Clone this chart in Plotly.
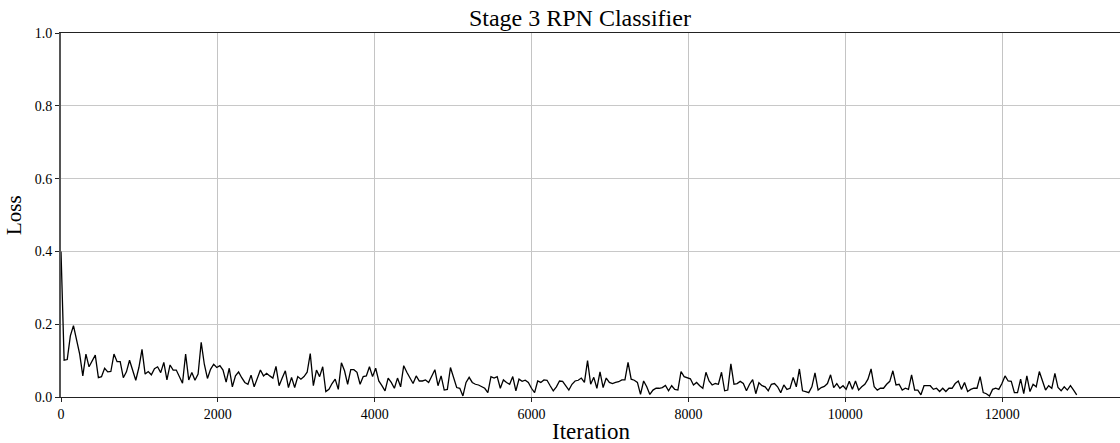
import numpy as np
import plotly.graph_objects as go

loss_part1 = [0.400, 0.101, 0.103, 0.168, 0.196, 0.159, 0.118, 0.058, 0.118, 0.083,
              0.099, 0.115, 0.053, 0.056, 0.079, 0.069, 0.070, 0.118, 0.097, 0.097,
              0.053, 0.069, 0.101, 0.070, 0.046, 0.081, 0.131, 0.063, 0.070, 0.061,
              0.078, 0.083, 0.067, 0.095, 0.047, 0.088, 0.074, 0.074, 0.058, 0.038,
              0.118, 0.047, 0.067, 0.046, 0.063, 0.150, 0.090, 0.051, 0.076, 0.090,
              0.081, 0.086, 0.074, 0.041, 0.079, 0.028, 0.058, 0.069, 0.053, 0.040,
              0.035, 0.060, 0.028, 0.053, 0.074, 0.058]
loss_part2 = [0.065, 0.058, 0.052, 0.084, 0.031, 0.052, 0.072, 0.026, 0.054, 0.026,
              0.056, 0.049, 0.056, 0.068, 0.119, 0.031, 0.074, 0.056, 0.083, 0.015,
              0.021, 0.037, 0.049, 0.021, 0.094, 0.072, 0.035, 0.075, 0.075, 0.068,
              0.035, 0.056, 0.058, 0.083, 0.056, 0.079, 0.044, 0.031, 0.017, 0.052,
              0.040, 0.024, 0.052, 0.028, 0.086, 0.068, 0.051, 0.037, 0.058, 0.044,
              0.044, 0.047, 0.040, 0.058, 0.075, 0.031, 0.058, 0.019, 0.021, 0.081,
              0.054, 0.026, 0.024, 0.003, 0.040, 0.054]
loss_part3 = [0.040, 0.035, 0.033, 0.028, 0.024, 0.012, 0.056, 0.052, 0.056, 0.024,
              0.047, 0.040, 0.035, 0.056, 0.017, 0.049, 0.043, 0.046, 0.040, 0.024,
              0.012, 0.044, 0.040, 0.047, 0.046, 0.031, 0.017, 0.028, 0.044, 0.043,
              0.031, 0.019, 0.035, 0.044, 0.046, 0.052, 0.040, 0.100, 0.035, 0.054,
              0.024, 0.069, 0.026, 0.052, 0.040, 0.037, 0.040, 0.042, 0.047, 0.047,
              0.095, 0.049, 0.046, 0.040, 0.007, 0.044, 0.028, 0.007, 0.019, 0.024,
              0.024, 0.026, 0.032, 0.017, 0.031]
loss_part4 = [0.021, 0.019, 0.070, 0.056, 0.052, 0.050, 0.033, 0.040, 0.031, 0.024,
              0.068, 0.044, 0.033, 0.037, 0.035, 0.068, 0.017, 0.019, 0.091, 0.035,
              0.037, 0.043, 0.037, 0.017, 0.035, 0.048, 0.009, 0.039, 0.031, 0.028,
              0.017, 0.035, 0.037, 0.028, 0.012, 0.033, 0.021, 0.024, 0.054, 0.028,
              0.077, 0.017, 0.015, 0.012, 0.028, 0.066, 0.019, 0.026, 0.029, 0.037,
              0.061, 0.026, 0.037, 0.024, 0.031, 0.021, 0.043, 0.021, 0.044, 0.019,
              0.028, 0.035, 0.049, 0.077, 0.028, 0.019, 0.024]
loss_part5 = [0.024, 0.035, 0.043, 0.072, 0.033, 0.035, 0.019, 0.024, 0.021, 0.061,
              0.019, 0.019, 0.006, 0.031, 0.031, 0.031, 0.021, 0.024, 0.015, 0.024,
              0.015, 0.024, 0.024, 0.037, 0.044, 0.021, 0.040, 0.015, 0.021, 0.024,
              0.024, 0.056, 0.012, 0.009, 0.003, 0.021, 0.024, 0.021, 0.037, 0.058,
              0.044, 0.043, 0.012, 0.012, 0.049, 0.009, 0.058, 0.015, 0.035, 0.028,
              0.070, 0.044, 0.019, 0.031, 0.024, 0.065, 0.026, 0.017, 0.028, 0.019,
              0.031, 0.019, 0.006]

loss = loss_part1 + loss_part2 + loss_part3 + loss_part4 + loss_part5
last_iteration = 12950
iterations = np.linspace(0, last_iteration, len(loss))

x_ticks = [0, 2000, 4000, 6000, 8000, 10000, 12000]
x_tick_labels = ["0", "2000", "4000", "6000", "8000", "10000", "12000"]
y_ticks = [0.0, 0.2, 0.4, 0.6, 0.8, 1.0]
y_tick_labels = ["0.0", "0.2", "0.4", "0.6", "0.8", "1.0"]

FONT = "Liberation Serif"

fig = go.Figure()
fig.add_trace(go.Scatter(x=iterations, y=loss, mode="lines",
                         line=dict(color="black", width=1.3), showlegend=False,
                         hoverinfo="skip"))

fig.update_layout(
    width=1120, height=443,
    margin=dict(l=61, r=0, t=33, b=46, pad=0, autoexpand=False),
    paper_bgcolor="white", plot_bgcolor="white",
    font=dict(family=FONT, color="black", size=14),
    title=dict(text="Stage 3 RPN Classifier", x=0.49, xref="paper", xanchor="center",
               y=1, yref="paper", yanchor="bottom", pad=dict(b=7),
               automargin=False,
               font=dict(family=FONT, size=24, color="black")),
    xaxis=dict(range=[0, 13502], tickvals=x_ticks, ticktext=x_tick_labels,
               automargin=False,
               showgrid=True, gridcolor="#c4c4c4", gridwidth=1,
               showline=True, linecolor="#222222", linewidth=1, mirror=True,
               ticks="outside", ticklen=4, tickwidth=1, tickcolor="#222222",
               zeroline=False, tickfont=dict(family=FONT, size=14)),
    yaxis=dict(range=[0, 1], tickvals=y_ticks, ticktext=y_tick_labels,
               automargin=False,
               showgrid=True, gridcolor="#c8c8c8", gridwidth=1,
               showline=True, linecolor="#555555", linewidth=1.8, mirror=False,
               ticks="outside", ticklen=4, tickwidth=1, tickcolor="#222222",
               zeroline=False, tickfont=dict(family=FONT, size=14)),
    annotations=[
        dict(text="Iteration", x=0.5, xref="paper", y=0, yref="paper",
             xanchor="center", yanchor="top", yshift=-20, showarrow=False,
             font=dict(family=FONT, size=23, color="black")),
        dict(text="Loss", x=0, xref="paper", y=0.5, yref="paper",
             xanchor="right", yanchor="middle", xshift=-33, textangle=-90,
             showarrow=False, font=dict(family=FONT, size=21, color="black")),
    ],
)

fig.write_html(
    "out.html",
    config={"displayModeBar": False},
    post_script="document.body.style.margin='0';document.body.style.overflow='hidden';",
)
